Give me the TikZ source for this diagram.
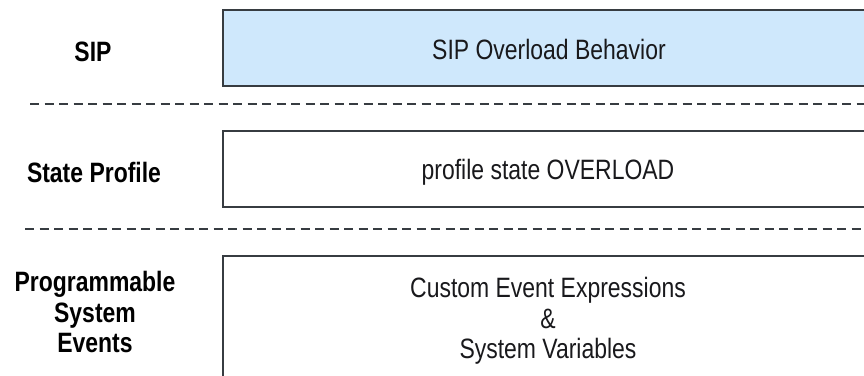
\documentclass[tikz,border=0pt]{standalone}
\usepackage{fontspec}
\setmainfont{Liberation Sans}
\usepackage{graphicx}
\newcommand{\sqz}[1]{\scalebox{0.82}[1]{#1}}
\definecolor{sipblue}{RGB}{207,232,252}
\definecolor{boxgray}{RGB}{55,60,65}
\definecolor{inkdark}{RGB}{25,25,28}
\begin{document}
\begin{tikzpicture}[x=1pt,y=-1pt,
  layerbox/.style={draw=boxgray, line width=2pt, inner sep=0pt, anchor=north west},
  sep/.style={draw=boxgray, line width=1.8pt, dash pattern=on 9pt off 5.5pt},
  boxtext/.style={font=\fontsize{28}{28}\selectfont, text=inkdark, anchor=base, inner sep=0pt},
  sidetext/.style={font=\fontsize{28}{28}\selectfont\bfseries, text=black, anchor=base, inner sep=0pt}]
\useasboundingbox (0,0) rectangle (864,375);
\clip (0,0) rectangle (864,375);

% layer boxes
\node[layerbox, fill=sipblue, minimum width=660pt, minimum height=76pt] (sipbox) at (222,9) {};
\node[layerbox, fill=white, minimum width=660pt, minimum height=76pt] (statebox) at (222,130) {};
\node[layerbox, fill=white, minimum width=660pt, minimum height=160pt] (eventbox) at (222,255) {};

% separators
\coordinate (s1a) at (30,104);
\coordinate (s1b) at (870,104);
\coordinate (s2a) at (25,229);
\coordinate (s2b) at (870,229);
\draw[sep] (s1a) -- (s1b);
\draw[sep] (s2a) -- (s2b);

% box texts
\node[boxtext] (siptext) at (549,59) {\sqz{SIP Overload Behavior}};
\node[boxtext] (statetext) at (548,179) {\sqz{profile state OVERLOAD}};
\node[boxtext] (ev1) at (548,297) {\sqz{Custom Event Expressions}};
\node[boxtext] (ev2) at (548,328) {\sqz{\&}};
\node[boxtext] (ev3) at (548,358) {\sqz{System Variables}};

% side labels
\node[sidetext] (lsip) at (93,61) {\sqz{SIP}};
\node[sidetext] (lstate) at (94,182) {\sqz{State Profile}};
\node[sidetext] (lp1) at (95,291) {\sqz{Programmable}};
\node[sidetext] (lp2) at (95,322) {\sqz{System}};
\node[sidetext] (lp3) at (95,352) {\sqz{Events}};
\end{tikzpicture}
\end{document}
